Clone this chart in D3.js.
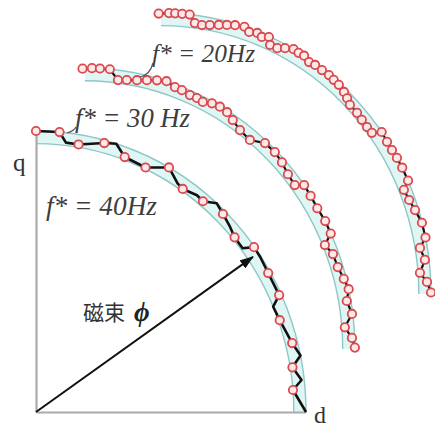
<!DOCTYPE html>
<html>
<head>
<meta charset="utf-8">
<script src="https://cdn.jsdelivr.net/npm/d3@7"></script>
<style>
  body { margin: 0; background: #fff; }
  svg { display: block; }
</style>
</head>
<body>
<svg id="chart" width="435" height="428"></svg>
<script>
// stator flux trajectories: angle (deg) and |psi| (normalised to outer band edge)
const f40Angle  = [90, 85, 83.4, 80.6, 75.2, 72.7, 70.1, 65, 60.5, 57.2, 55.6, 52.3, 50.5, 48, 45.5, 42.5, 40.2, 37.3, 36, 33.6, 29.9, 24.8, 23.1, 19.9, 14.5, 11.6, 9.5, 6.6, 4.7, 0];
const f40Radius = [1.0, 1.0, 0.965, 0.965, 0.99, 1.0, 0.965, 0.96, 1.0, 0.968, 0.962, 0.975, 0.972, 1.0, 0.988, 0.975, 0.963, 0.962, 0.998, 0.997, 0.992, 0.992, 0.955, 0.96, 0.98, 1.0, 0.963, 0.99, 0.955, 1.0];
const f40Switch = [1, 1, 0, 1, 1, 0, 1, 1, 1, 0, 1, 0, 1, 0, 1, 0, 1, 0, 1, 0, 1, 1, 0, 1, 1, 0, 1, 0, 1, 0];

const f30Angle  = [90.5, 88.5, 86.8, 84.7, 82.7, 80.8, 78.6, 76.5, 74.4, 72.4, 70.3, 68.7, 66.7, 65.1, 63.6, 61.7, 59.9, 58, 56.1, 53.6, 50.6, 47.7, 44.9, 42.3, 39.6, 36.9, 35.7, 33.1, 30.2, 27.1, 24.3, 22.6, 20.2, 17.3, 14.6, 12.3, 10, 7.2, 4.6, 2.3, 0.3];
const f30Radius = [0.998, 1.0, 1.0, 1.0, 0.965, 0.97, 0.976, 0.984, 0.993, 1.0, 0.99, 0.989, 0.984, 0.985, 0.982, 0.993, 0.997, 0.994, 0.982, 0.968, 0.963, 0.991, 0.993, 0.987, 0.976, 0.972, 1.0, 0.998, 0.996, 1.0, 0.999, 0.963, 0.979, 0.981, 0.991, 1.0, 0.985, 0.997, 0.966, 0.99, 1.0];

const f20Angle  = [90.5, 88.3, 87, 85.5, 83.9, 82.6, 81, 79.3, 77.4, 75.7, 74, 72, 70.7, 69, 67.8, 66.4, 65.5, 63.8, 62.3, 60.6, 59.3, 58, 56.4, 55, 53.2, 51.4, 50, 48.5, 46.7, 45.3, 43.9, 41.6, 39.8, 37.9, 36.3, 35.2, 32.9, 30.9, 29, 26.7, 23.8, 22.4, 20, 17.6, 14.7, 11.6, 9.7, 7.1, 4.5, 2.5, 0.3];
const f20Radius = [0.998, 1.0, 1.0, 1.0, 1.0, 0.972, 0.969, 0.974, 0.981, 0.988, 0.995, 1.0, 0.988, 0.995, 0.988, 0.998, 0.974, 0.975, 0.988, 1.0, 0.998, 1.0, 0.991, 0.995, 0.995, 0.997, 0.995, 0.994, 0.988, 0.98, 0.971, 0.971, 0.968, 0.967, 0.969, 1.0, 0.997, 0.997, 0.999, 1.0, 1.0, 0.973, 0.978, 0.987, 0.999, 1.0, 0.973, 0.985, 0.962, 0.986, 1.0];

// hysteresis band and where each trajectory is drawn (d, q offset)
const bandInner = 0.955;
const bandOuter = 1.0;
const curveLabels = ['f* = 40Hz', 'f* = 30 Hz', 'f* = 20Hz'];
const centerD = [0, 0.181, 0.463];
const centerQ = [0, 0.224, 0.42];

// flux vector drawn as arrow
const fluxAngle = 34.5;
const fluxMag = 0.975;

const svg = d3.select('#chart');
svg.append('rect').attr('width', 435).attr('height', 428).attr('fill', '#fff');

const x = d3.scaleLinear().domain([0, 1]).range([36, 306]);
const y = d3.scaleLinear().domain([0, 1]).range([412, 131]);
const rad = Math.PI / 180;

function pt(cd, cq, a, r) {
  return [x(cd + r * Math.cos(a * rad)), y(cq + r * Math.sin(a * rad))];
}

function bandPath(cd, cq) {
  const rxo = x(bandOuter) - x(0), ryo = y(0) - y(bandOuter);
  const rxi = x(bandInner) - x(0), ryi = y(0) - y(bandInner);
  return 'M' + x(cd + bandOuter) + ',' + y(cq) +
    'A' + rxo + ',' + ryo + ' 0 0 0 ' + x(cd) + ',' + y(cq + bandOuter) +
    'L' + x(cd) + ',' + y(cq + bandInner) +
    'A' + rxi + ',' + ryi + ' 0 0 1 ' + x(cd + bandInner) + ',' + y(cq) + 'Z';
}

function edgePath(cd, cq, r) {
  const rx = x(r) - x(0), ry = y(0) - y(r);
  return 'M' + x(cd + r) + ',' + y(cq) +
    'A' + rx + ',' + ry + ' 0 0 0 ' + x(cd) + ',' + y(cq + r);
}

// bands
centerD.forEach(function(cd, i) {
  const cq = centerQ[i];
  svg.append('path').attr('d', bandPath(cd, cq)).attr('fill', '#e0f6f5');
  [bandInner, bandOuter].forEach(function(r) {
    svg.append('path').attr('d', edgePath(cd, cq, r))
      .attr('fill', 'none').attr('stroke', '#8ec8c6').attr('stroke-width', 1.4);
  });
});

// d-q axes
svg.append('g').attr('transform', 'translate(' + x(0) + ',0)')
  .call(d3.axisLeft(y).tickValues([]).tickSizeOuter(0))
  .select('.domain').attr('stroke', '#aaa').attr('stroke-width', 2.2);
svg.append('g').attr('transform', 'translate(0,' + y(0) + ')')
  .call(d3.axisBottom(x).tickValues([]).tickSizeOuter(0))
  .select('.domain').attr('stroke', '#aaa').attr('stroke-width', 2.2);

// flux arrow
svg.append('defs').append('marker')
  .attr('id', 'head').attr('markerUnits', 'userSpaceOnUse')
  .attr('markerWidth', 14).attr('markerHeight', 10)
  .attr('refX', 13).attr('refY', 5).attr('orient', 'auto')
  .append('path').attr('d', 'M0,0L14,5L0,10Z').attr('fill', '#111');
const tip = pt(0, 0, fluxAngle, fluxMag);
svg.append('line')
  .attr('x1', x(0)).attr('y1', y(0)).attr('x2', tip[0]).attr('y2', tip[1])
  .attr('stroke', '#111').attr('stroke-width', 2).attr('marker-end', 'url(#head)');

// trajectories
const line = d3.line();
const series = [
  { ang: f40Angle, r: f40Radius, sw: f40Switch, w: 2.6 },
  { ang: f30Angle, r: f30Radius, sw: null, w: 2.2 },
  { ang: f20Angle, r: f20Radius, sw: null, w: 2.2 }
];
series.forEach(function(s, i) {
  const pts = s.ang.map(function(a, j) { return pt(centerD[i], centerQ[i], a, s.r[j]); });
  svg.append('path').attr('d', line(pts))
    .attr('fill', 'none').attr('stroke', '#111').attr('stroke-width', s.w)
    .attr('stroke-linejoin', 'round');
  svg.append('g').selectAll('circle')
    .data(pts.filter(function(p, j) { return !s.sw || s.sw[j]; }))
    .enter().append('circle')
    .attr('cx', function(d) { return d[0]; })
    .attr('cy', function(d) { return d[1]; })
    .attr('r', 4.2)
    .attr('fill', '#fde9e9')
    .attr('stroke', '#d94a4e')
    .attr('stroke-width', 1.8);
});

// labels
const serif = 'Liberation Serif, Times New Roman, serif';
const labelPos = [[46, 215, 111, 27], [75, 127, 115, 27], [152, 62, 103, 25]];
curveLabels.forEach(function(t, i) {
  svg.append('text')
    .attr('x', labelPos[i][0]).attr('y', labelPos[i][1])
    .attr('textLength', labelPos[i][2]).attr('lengthAdjust', 'spacingAndGlyphs')
    .style('font-family', serif).style('font-style', 'italic')
    .style('font-size', labelPos[i][3] + 'px').attr('fill', '#3d3d3d')
    .text(t);
});
// leaders from labels
svg.append('path').attr('d', 'M153,63Q150,75 140,77')
  .attr('fill', 'none').attr('stroke', '#555').attr('stroke-width', 1.2);
svg.append('path').attr('d', 'M76,127Q74,131 67,133')
  .attr('fill', 'none').attr('stroke', '#555').attr('stroke-width', 1.2);

svg.append('text').attr('x', 13).attr('y', 171)
  .style('font-family', serif).style('font-size', '25px').attr('fill', '#333').text('q');
svg.append('text').attr('x', 314).attr('y', 423)
  .style('font-family', serif).style('font-size', '24px').attr('fill', '#333').text('d');

svg.append('text').attr('x', 83).attr('y', 320)
  .style('font-family', 'Noto Sans CJK JP, sans-serif')
  .style('font-size', '21px').attr('fill', '#333').text('磁束');
svg.append('text').attr('x', 134).attr('y', 321)
  .style('font-family', serif).style('font-style', 'italic').style('font-weight', 'bold')
  .style('font-size', '27px').attr('fill', '#222').text('ϕ');
</script>
</body>
</html>
